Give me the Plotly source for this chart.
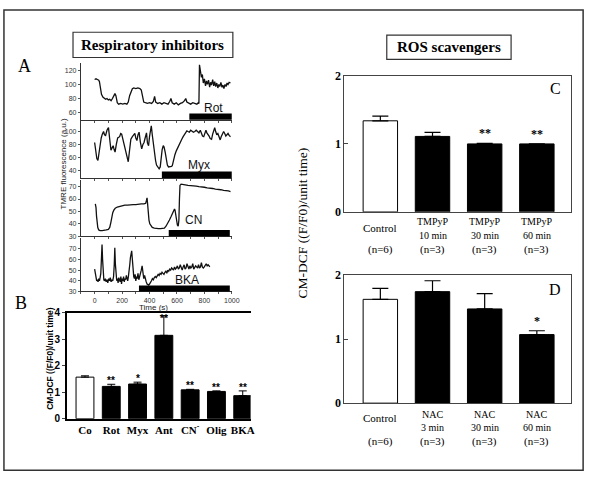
import plotly.graph_objects as go

W, H = 600, 482
SANS = "Liberation Sans, Arial, sans-serif"
SERIF = "Liberation Serif, Times New Roman, serif"

# ---------------- Panel A data (TMRE traces) ----------------
t_rot = [0, 10, 20, 30, 35, 42, 50, 60, 70, 80, 90, 100, 110, 120, 130, 140, 148, 155, 165, 175, 190, 205, 220, 235,
         245, 255, 265, 275, 285, 300, 315, 330, 340, 348, 358, 370, 385, 400, 415, 428, 437, 445, 460, 475, 490, 505,
         520, 535, 548, 556, 565, 580, 595, 610, 625, 640, 655, 664, 672, 685, 700, 715, 730, 745, 755, 760, 764, 770,
         778, 785, 792, 800, 808, 815, 822, 830, 838, 845, 852, 860, 868, 875, 882, 890, 898, 905, 912, 920, 928, 935,
         942, 950, 958, 965, 972, 980, 990]
v_rot = [107, 108, 107, 106, 104, 95, 86, 82, 80, 79, 80, 78, 79, 77, 80, 84, 87, 84, 74, 72, 73, 72, 73, 72,
         75, 84, 90, 94, 95, 94, 95, 94, 92, 82, 75, 74, 73, 74, 73, 76, 83, 75, 73, 74, 72, 74,
         73, 72, 76, 80, 74, 72, 74, 71, 73, 74, 77, 80, 75, 73, 72, 74, 73, 72, 74, 73, 128, 122,
         110, 114, 102, 108, 98, 105, 100, 106, 96, 103, 99, 107, 98, 104, 97, 102, 95, 100, 97, 103, 96, 99,
         94, 100, 97, 102, 100, 103, 102]

t_myx = [0, 8, 16, 24, 32, 40, 48, 56, 65, 72, 80, 90, 101, 110, 119, 128, 135, 142, 149, 158, 168, 182, 190, 197,
         205, 215, 225, 235, 245, 255, 264, 275, 285, 293, 300, 308, 316, 324, 333, 343, 352, 360, 368, 378, 385, 393,
         400, 406, 413, 420, 428, 436, 444, 451, 460, 470, 478, 485, 492, 500, 506, 514, 522, 530, 538, 550, 560, 566,
         575, 585, 595, 605, 615, 625, 635, 645, 655, 664, 672, 680, 690, 700, 710, 720, 730, 740, 750, 760, 770, 778,
         786, 795, 803, 811, 818, 826, 834, 842, 852, 860, 868, 875, 882, 890, 898, 906, 915, 922, 930, 940, 948, 956,
         964, 972, 980, 990]
v_myx = [83, 70, 58, 55, 68, 83, 90, 96, 100, 95, 94, 102, 106, 88, 71, 75, 78, 72, 68, 80, 90, 92, 97, 96,
         88, 80, 70, 60, 53, 72, 88, 92, 96, 97, 90, 86, 95, 99, 84, 73, 80, 83, 90, 98, 82, 78,
         92, 102, 109, 95, 80, 71, 55, 48, 44, 42, 45, 60, 72, 78, 76, 68, 55, 48, 45, 45, 46, 47,
         56, 64, 70, 75, 80, 85, 88, 92, 96, 99, 101, 100, 99, 102, 101, 99, 100, 102, 100, 98, 102, 97,
         93, 92, 96, 102, 98, 96, 93, 89, 88, 96, 103, 106, 100, 95, 97, 90, 87, 92, 96, 100, 97, 93,
         95, 97, 94, 92]

t_cn = [5, 10, 14, 18, 23, 30, 40, 55, 70, 85, 100, 110, 118, 125, 132, 140, 150, 165, 180, 200, 220, 240, 260, 280,
        300, 320, 340, 360, 372, 378, 382, 386, 391, 396, 402, 410, 420, 435, 450, 465, 480, 495, 508, 520, 532, 545,
        558, 568, 576, 582, 586, 590, 596, 603, 609, 614, 618, 622, 630, 645, 660, 680, 700, 720, 740, 760, 780, 800,
        820, 840, 860, 880, 900, 920, 940, 960, 975, 990]
v_cn = [56, 53, 46, 41, 37, 35, 34.5, 34.5, 34.5, 35, 35.5, 37, 41, 46, 49, 51, 52.5, 53.5, 54, 54.5, 55, 55, 55.5, 55.5,
        55.5, 56, 56, 56, 56.5, 59, 61, 56, 47, 43, 40, 38, 37, 36.5, 36, 36, 36, 36, 36.5, 38, 40, 43,
        46, 48, 50, 52, 51, 47, 41, 39, 38, 43, 60, 71, 72, 71.5, 71.5, 71, 71, 70.5, 70.5, 70, 70, 69.5,
        69, 69, 68.5, 68, 68, 67.5, 67, 67, 66.5, 66]

t_bka = [0, 5, 10, 15, 20, 25, 30, 35, 40, 45, 50, 54, 58, 62, 67, 72, 78, 84, 90, 96, 102, 108, 114, 120, 126, 132,
         138, 143, 147, 151, 156, 161, 166, 171, 176, 181, 186, 191, 196, 201, 206, 211, 216, 221, 226, 231, 236, 241,
         246, 251, 256, 261, 266, 270, 275, 280, 285, 290, 295, 300, 305, 310, 316, 322, 328, 334, 340, 346, 352, 358,
         364, 370, 376, 382, 388, 394, 400, 407, 414, 421, 428, 435, 442, 449, 456, 463, 470, 477, 484, 491, 498, 505,
         512, 519, 526, 533, 540, 547, 554, 561, 568, 575, 582, 589, 596, 603, 610, 617, 624, 631, 638, 645, 652, 659,
         666, 673, 680, 687, 694, 701, 708, 715, 722, 729, 736, 743, 750, 757, 764, 771, 778, 785, 792, 799, 806, 813,
         820, 827, 834, 839]
v_bka = [51, 47, 42, 40, 41, 39, 42, 40, 43, 47, 62, 74, 60, 46, 41, 40, 42, 39, 41, 38, 42, 40, 43, 39, 41, 40,
         44, 55, 71, 56, 43, 40, 42, 38, 43, 40, 39, 44, 37, 42, 40, 44, 39, 42, 41, 45, 42, 40,
         44, 48, 55, 62, 67, 68, 60, 48, 44, 42, 46, 40, 44, 42, 47, 41, 44, 45, 50, 54, 48, 42,
         45, 41, 39, 37, 36.5, 36, 37, 38, 40, 42, 41, 43, 44, 43, 45, 46, 45, 47, 46, 48, 47, 46,
         48, 49, 47, 50, 49, 51, 50, 52, 51, 50, 53, 51, 52, 54, 51, 52, 55, 52, 50, 53, 55, 51,
         52, 56, 53, 51, 54, 52, 53, 56, 51, 52, 54, 53, 52, 55, 52, 53, 57, 53, 52, 53, 55, 56,
         54, 55, 54, 53]

drugs = ["Rot", "Myx", "CN", "BKA"]
drug_start = [690, 490, 540, 323]
drug_end = [1000, 1000, 985, 985]
a_yranges = [[50, 130], [28, 117], [30, 75.5], [30, 80]]
a_yticks = [[60, 80, 100, 120], [40, 60, 80, 100], [30, 40, 50, 60, 70], [30, 40, 50, 60, 70]]
a_x_ticks = [0, 200, 400, 600, 800, 1000]

# ---------------- Panel B data ----------------
cats_B = ["Co", "Rot", "Myx", "Ant", "CN<sup>-</sup>", "Olig", "BKA"]
vals_B = [1.57, 1.22, 1.31, 3.15, 1.09, 1.03, 0.87]
err_B = [0.05, 0.08, 0.07, 0.74, 0.02, 0.02, 0.18]
sig_B = ["", "**", "*", "**", "**", "**", "**"]
fill_B = ["white", "black", "black", "black", "black", "black", "black"]
ymax_B = 4

# ---------------- Panel C data ----------------
lab1_C = ["Control", "TMPyP", "TMPyP", "TMPyP"]
lab2_C = ["", "10 min", "30 min", "60 min"]
n_C = ["(n=6)", "(n=3)", "(n=3)", "(n=3)"]
vals_C = [1.34, 1.11, 1.00, 1.00]
err_C = [0.07, 0.06, 0.01, 0.0]
sig_C = ["", "", "**", "**"]

# ---------------- Panel D data ----------------
lab1_D = ["Control", "NAC", "NAC", "NAC"]
lab2_D = ["", "3 min", "30 min", "60 min"]
n_D = ["(n=6)", "(n=3)", "(n=3)", "(n=3)"]
vals_D = [1.62, 1.74, 1.47, 1.07]
err_D = [0.17, 0.17, 0.24, 0.06]
sig_D = ["", "", "", "*"]
fill_CD = ["white", "black", "black", "black"]


def px(x):
    return x / W


def py(y):
    return 1 - y / H


fig = go.Figure()
layout = dict(width=W, height=H, margin=dict(l=0, r=0, t=0, b=0), paper_bgcolor="white",
              plot_bgcolor="rgba(0,0,0,0)", showlegend=False)
shapes = []
annotations = []


def ann(text, x, y, xref="paper", yref="paper", xanchor="center", yanchor="middle", **kw):
    d = dict(text=text, x=x, y=y, xref=xref, yref=yref, xanchor=xanchor, yanchor=yanchor, showarrow=False)
    d.update(kw)
    annotations.append(d)


# ---- Panel A ----
a_doms = [(58, 116), (117, 176), (178, 236), (238, 293)]
traces_t = [t_rot, t_myx, t_cn, t_bka]
traces_v = [v_rot, v_myx, v_cn, v_bka]
lab_pos = [(868, 0.2), (760, 0.23), (719, 0.28), (676, 0.21)]
for i in range(4):
    n = i + 1
    xa = "x" if n == 1 else f"x{n}"
    ya = "y" if n == 1 else f"y{n}"
    fig.add_trace(go.Scatter(x=traces_t[i], y=traces_v[i], mode="lines", xaxis=xa, yaxis=ya,
                             line=dict(color="#111", width=1.3), hoverinfo="skip"))
    bottom = (i == 3)
    xdict = dict(
        domain=[px(82), px(235)], range=[-100, 1000], anchor=ya, showgrid=False, zeroline=False,
        showline=True, linecolor="#333", linewidth=1, ticks="outside", ticklen=2, tickcolor="#555",
        tickvals=a_x_ticks if bottom else list(range(0, 1001, 100)),
        showticklabels=bottom, tickfont=dict(family=SANS, size=7, color="#333"))
    if bottom:
        xdict["minor"] = dict(ticks="outside", ticklen=2, dtick=100, tickcolor="#555")
    layout["xaxis" if n == 1 else f"xaxis{n}"] = xdict
    y0, y1 = a_doms[i]
    layout["yaxis" if n == 1 else f"yaxis{n}"] = dict(
        domain=[py(y1), py(y0)], range=a_yranges[i], anchor=xa, showgrid=False, zeroline=False,
        showline=True, linecolor="#333", linewidth=1, ticks="outside", ticklen=2, tickcolor="#555",
        tickvals=a_yticks[i], tickfont=dict(family=SANS, size=7, color="#333"))
    shapes.append(dict(type="rect", xref=xa, yref=f"{ya} domain", x0=drug_start[i], x1=drug_end[i],
                       y0=0, y1=0.11, fillcolor="black", line=dict(width=0)))
    ann(drugs[i], lab_pos[i][0], lab_pos[i][1], xref=xa, yref=f"{ya} domain",
        font=dict(family=SANS, size=12, color="#111"))

ann("Time (s)", px(156), py(310), font=dict(family=SANS, size=8, color="#222"))
ann("TMRE fluorescence (a.u.)", px(64), py(162), textangle=-90, font=dict(family=SANS, size=8, color="#222"))

# ---- Panel B ----
xs_B = list(range(len(cats_B)))
fig.add_trace(go.Bar(x=xs_B, y=vals_B, width=0.68, xaxis="x5", yaxis="y5",
                     marker=dict(color=fill_B, line=dict(color="black", width=1)),
                     error_y=dict(type="data", array=err_B, arrayminus=[0] * len(err_B), symmetric=False,
                                  color="black", thickness=1, width=4), hoverinfo="skip"))
layout["xaxis5"] = dict(domain=[px(68), px(254)], range=[-0.68, 6.3], anchor="y5", showgrid=False,
                        zeroline=False, showline=True, mirror=True, linecolor="black", linewidth=2,
                        tickvals=xs_B, ticktext=cats_B, ticks="",
                        tickfont=dict(family=SERIF, size=11, color="black", weight="bold"))
layout["yaxis5"] = dict(domain=[py(424), py(315)], range=[0, ymax_B], anchor="x5", showgrid=False,
                        zeroline=False, showline=True, linecolor="black", linewidth=2, ticks="outside",
                        ticklen=3, tickvals=[0, 1, 2, 3, 4],
                        tickfont=dict(family=SANS, size=10, color="black", weight="bold"))
for i, s in enumerate(sig_B):
    if s:
        top = vals_B[i] + err_B[i]
        if top > 0.9 * ymax_B:
            # near the frame: asterisks sit on the error cap, as in the original
            ann(s, xs_B[i], top, xref="x5", yref="y5", yanchor="middle", yshift=-3,
                font=dict(family=SANS, size=10, color="black", weight="bold"))
        else:
            ann(s, xs_B[i], top, xref="x5", yref="y5", yanchor="bottom", yshift=-4,
                font=dict(family=SANS, size=10, color="black", weight="bold"))
ann("CM-DCF ((F/F0)/unit time)", px(51), py(362), textangle=-90,
    font=dict(family=SANS, size=8.5, color="black", weight="bold"))


# ---- Panels C & D ----
def bar_panel(n, vals, errs, sigs, lab1, lab2, labn, ydom, letter, lab_y, letter_y):
    xs = list(range(len(vals)))
    fig.add_trace(go.Bar(x=xs, y=vals, width=0.66, xaxis=f"x{n}", yaxis=f"y{n}",
                         marker=dict(color=fill_CD, line=dict(color="black", width=1)),
                         error_y=dict(type="data", array=errs, arrayminus=[0] * len(errs), symmetric=False,
                                      color="black", thickness=1.2, width=8), hoverinfo="skip"))
    layout[f"xaxis{n}"] = dict(domain=[px(349), px(579)], range=[-0.69, 3.66], anchor=f"y{n}",
                               showgrid=False, zeroline=False, showline=True, mirror=True,
                               linecolor="#444", linewidth=1, showticklabels=False, ticks="")
    layout[f"yaxis{n}"] = dict(domain=[py(ydom[1]), py(ydom[0])], range=[0, 2], anchor=f"x{n}",
                               showgrid=False, zeroline=False, showline=True, mirror=True,
                               linecolor="#444", linewidth=1, ticks="inside", ticklen=4,
                               tickvals=[0, 1, 2],
                               tickfont=dict(family=SERIF, size=12, color="black", weight="bold"))
    for i, s in enumerate(sigs):
        if s:
            ann(s, xs[i], vals[i] + errs[i], xref=f"x{n}", yref=f"y{n}", yanchor="bottom", yshift=1,
                font=dict(family=SERIF, size=12, color="black", weight="bold"))
    for i in range(len(vals)):
        if lab2[i]:
            ann(lab1[i], xs[i], py(lab_y[0]), xref=f"x{n}", font=dict(family=SERIF, size=10, color="black"))
            ann(lab2[i], xs[i], py(lab_y[1]), xref=f"x{n}", font=dict(family=SERIF, size=10, color="black"))
        else:
            ann(lab1[i], xs[i], py(lab_y[3]), xref=f"x{n}", font=dict(family=SERIF, size=11, color="black"))
        ann(labn[i], xs[i], py(lab_y[2]), xref=f"x{n}", font=dict(family=SERIF, size=11, color="black"))
    ann(letter, 0.93, letter_y, xref=f"x{n} domain", yref=f"y{n} domain",
        font=dict(family=SERIF, size=16, color="black"))


bar_panel(6, vals_C, err_C, sig_C, lab1_C, lab2_C, n_C, (71, 211), "C", (221, 235, 250, 228), 0.91)
bar_panel(7, vals_D, err_D, sig_D, lab1_D, lab2_D, n_D, (276, 408), "D", (420, 433, 447, 423), 0.89)

ann("CM-DCF ((F/F0)/unit time)", px(307), py(222), textangle=-90,
    font=dict(family=SERIF, size=13.5, color="black"))

# ---- titles, letters, frame ----
shapes.append(dict(type="rect", xref="paper", yref="paper", x0=px(74), x1=px(236), y0=py(52), y1=py(26),
                   line=dict(color="#333", width=1.2)))
ann("Respiratory inhibitors", px(155), py(39), font=dict(family=SERIF, size=15, color="black", weight="bold"))
shapes.append(dict(type="rect", xref="paper", yref="paper", x0=px(392), x1=px(518), y0=py(54), y1=py(29),
                   line=dict(color="#333", width=1.2)))
ann("ROS scavengers", px(455), py(41.5), font=dict(family=SERIF, size=15, color="black", weight="bold"))
ann("A", px(25), py(61), font=dict(family=SERIF, size=18, color="black"))
ann("B", px(21), py(305), font=dict(family=SERIF, size=18, color="black"))
shapes.append(dict(type="rect", xref="paper", yref="paper", x0=px(4), x1=px(591), y0=py(477), y1=py(3),
                   line=dict(color="#333", width=1.5)))

layout["shapes"] = shapes
layout["annotations"] = annotations
fig.update_layout(**layout)
fig.write_html("out.html", config={"displayModeBar": False, "staticPlot": True},
               post_script="document.body.style.margin='0';document.body.style.overflow='hidden';")
